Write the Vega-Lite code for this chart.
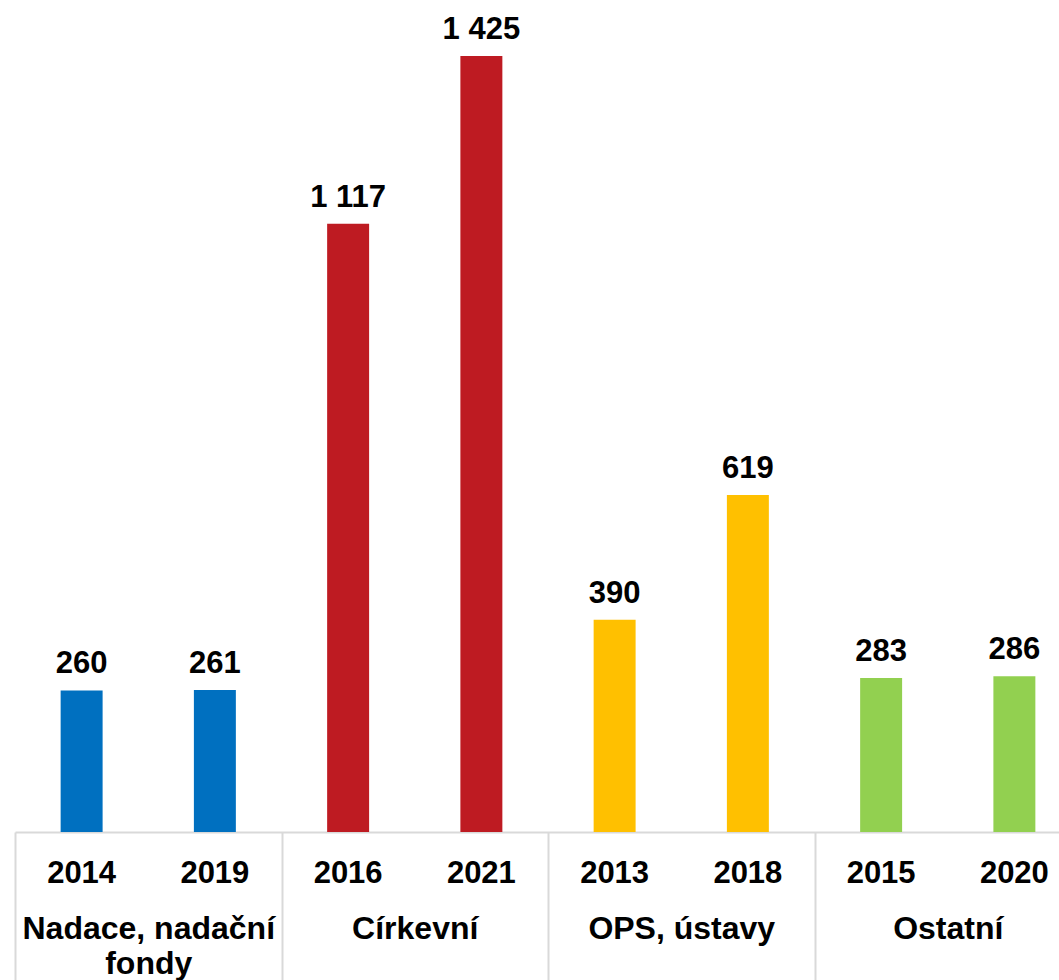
{
  "$schema": "https://vega.github.io/schema/vega-lite/v6.json",
  "width": 1044,
  "height": 832,
  "autosize": {"type": "none"},
  "padding": {"left": 15, "top": 0, "right": 0, "bottom": 148},
  "config": {
    "view": {"stroke": null},
    "font": "Liberation Sans",
    "locale": {"number": {"decimal": ",", "thousands": " ", "grouping": [3], "currency": ["", " Kč"]}}
  },
  "data": {
    "values": [
      {"group": "Nadace, nadační fondy", "year": "2014", "value": 260},
      {"group": "Nadace, nadační fondy", "year": "2019", "value": 261},
      {"group": "Církevní", "year": "2016", "value": 1117},
      {"group": "Církevní", "year": "2021", "value": 1425},
      {"group": "OPS, ústavy", "year": "2013", "value": 390},
      {"group": "OPS, ústavy", "year": "2018", "value": 619},
      {"group": "Ostatní", "year": "2015", "value": 283},
      {"group": "Ostatní", "year": "2020", "value": 286}
    ]
  },
  "layer": [
    {
      "encoding": {
        "x": {
          "field": "year", "type": "ordinal", "sort": null,
          "scale": {"range": [0, 1066], "paddingInner": 0, "paddingOuter": 0},
          "axis": {
            "orient": "bottom", "title": null, "labelAngle": 0,
            "domainColor": "#D9D9D9", "domainWidth": 2, "ticks": false,
            "labelFontSize": 31, "labelFontWeight": "bold", "labelColor": "#000000",
            "labelPadding": 26, "labelBaseline": "top"
          }
        },
        "y": {
          "field": "value", "type": "quantitative",
          "scale": {"domain": [0, 1528], "nice": false, "zero": true},
          "axis": null
        }
      },
      "layer": [
        {
          "mark": {"type": "bar", "width": {"band": 0.315}},
          "encoding": {
            "color": {
              "field": "group", "type": "nominal", "sort": null,
              "scale": {
                "domain": ["Nadace, nadační fondy", "Církevní", "OPS, ústavy", "Ostatní"],
                "range": ["#0070C0", "#BE1B22", "#FFC000", "#92D050"]
              },
              "legend": null
            }
          }
        },
        {
          "mark": {"type": "text", "dy": -17, "baseline": "alphabetic", "fontSize": 31, "fontWeight": "bold", "color": "#000000"},
          "encoding": {
            "text": {"field": "value", "type": "quantitative", "format": ",d"}
          }
        }
      ]
    },
    {
      "mark": {"type": "text", "text": ""},
      "encoding": {
        "x": {
          "field": "group", "type": "nominal", "sort": null,
          "scale": {"range": [0, 1066], "paddingInner": 0, "paddingOuter": 0},
          "axis": {
            "orient": "bottom", "title": null, "labelAngle": 0,
            "domain": false, "ticks": true, "tickBand": "extent",
            "tickSize": 148, "tickColor": "#D9D9D9", "tickWidth": 2,
            "labelFontSize": 32, "labelFontWeight": "bold", "labelColor": "#000000",
            "labelPadding": -67, "labelBaseline": "top", "labelLineHeight": 35, "labelLimit": 0,
            "labelExpr": "datum.value === 'Nadace, nadační fondy' ? ['Nadace, nadační', 'fondy'] : datum.value"
          }
        }
      }
    }
  ],
  "resolve": {"scale": {"x": "independent"}, "axis": {"x": "independent"}}
}
